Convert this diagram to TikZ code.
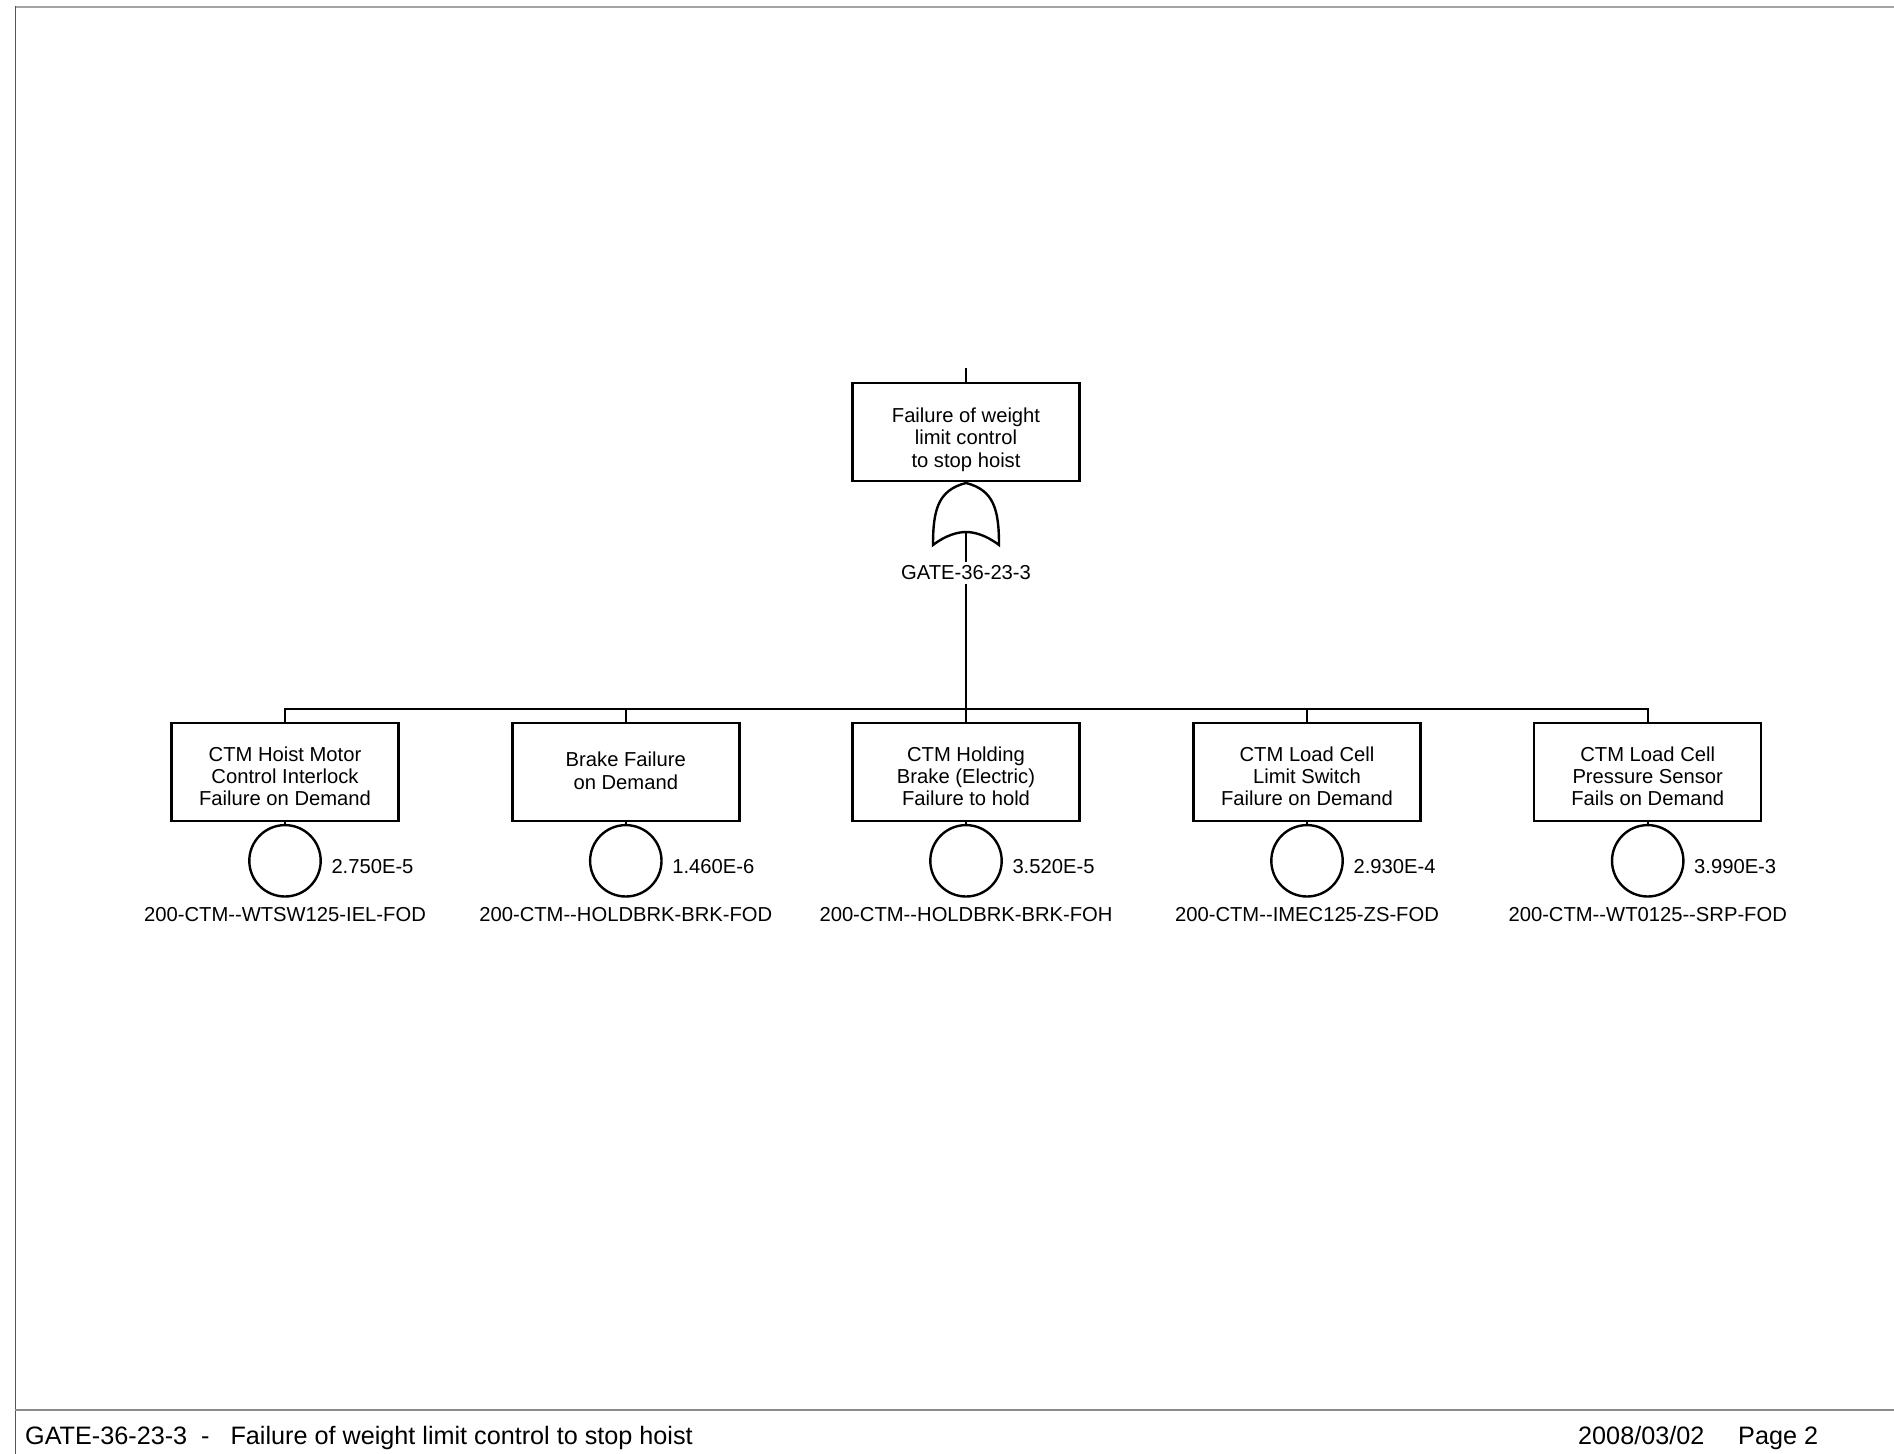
\documentclass[tikz,border=0pt]{standalone}
\usepackage{fontspec}
\setmainfont{Liberation Sans}
\usetikzlibrary{positioning}
\newcommand{\evfont}{\fontsize{10.1}{11.2}\selectfont}
\newcommand{\footfont}{\fontsize{12.6}{15}\selectfont}
\definecolor{rulegray}{HTML}{A4A4A4}
\definecolor{edgegray}{HTML}{555555}
\definecolor{footgray}{HTML}{8C8C8C}

\begin{document}
\begin{tikzpicture}[x=0.5pt, y=-0.5pt, line width=1.2pt,
  event/.style={draw, rectangle, minimum width=113.5pt, minimum height=49pt, inner sep=0pt},
  evtext/.style={align=center, font=\evfont, inner sep=0pt, yshift=#1},
  evtext/.default=-2.3pt,
  basic/.style={draw, circle, minimum size=35.7pt, inner sep=0pt},
  prob/.style={inner sep=0pt, font=\evfont},
  evid/.style={inner sep=0pt, font=\evfont},
  foot/.style={inner sep=0pt, anchor=base west, font=\footfont}]
\useasboundingbox (0,0) rectangle (1894,1454);

% Page frame and footer
\draw[rulegray, line width=1pt] (15,7) -- (1894,7);
\draw[edgegray, line width=0.5pt] (15,6.5) -- (15,1454);
\draw[footgray, line width=0.6pt] (15,1410) -- (1894,1410);
\node[foot] (ftitle) at (24,1444) {GATE-36-23-3\ \ -\ \ \ Failure of weight limit control to stop hoist};
\node[foot] (fdate) at (1577,1444) {2008/03/02};
\node[foot] (fpage) at (1737,1444) {Page 2};

% Top event and OR gate
\coordinate (topin) at (966,368);
\node[event, label={[evtext=-3.8pt]center:Failure of weight\\limit control\\to stop hoist}] (top) at (966,432) {};
\draw (topin) -- (top);
\begin{scope}[shift={(966,545)}]
\draw (-33,0) .. controls (-33,-35) and (-28,-55) .. (0,-62)
              .. controls (28,-55) and (33,-35) .. (33,0)
              .. controls (20,-10) and (8,-13) .. (0,-13)
              .. controls (-8,-13) and (-20,-10) .. (-33,0) -- cycle;
\coordinate (gin) at (0,-13);
\end{scope}
\coordinate (bus) at (966,709);
\draw (gin) -- (bus);
\node[evid, fill=white, inner xsep=1pt, inner ysep=2pt] (glbl) at (966,573) {GATE-36-23-3};

% Basic events
\node[event, label={[evtext]center:CTM Hoist Motor\\Control Interlock\\Failure on Demand}] (ev1) at (285,771.7) {};
\node[event, label={[evtext=0.5pt]center:Brake Failure\\on Demand}] (ev2) at (625.8,771.7) {};
\node[event, label={[evtext]center:CTM Holding\\Brake (Electric)\\Failure to hold}] (ev3) at (966,771.7) {};
\node[event, label={[evtext]center:CTM Load Cell\\Limit Switch\\Failure on Demand}] (ev4) at (1307,771.7) {};
\node[event, label={[evtext]center:CTM Load Cell\\Pressure Sensor\\Fails on Demand}] (ev5) at (1647.7,771.7) {};

\draw (ev1.north) |- (bus) -| (ev5.north);
\draw (ev2.north) -- (ev2.north |- bus);
\draw (ev3.north) -- (ev3.north |- bus);
\draw (ev4.north) -- (ev4.north |- bus);

\node[basic, below=1pt of ev1] (be1) {};
\node[basic, below=1pt of ev2] (be2) {};
\node[basic, below=1pt of ev3] (be3) {};
\node[basic, below=1pt of ev4] (be4) {};
\node[basic, below=1pt of ev5] (be5) {};
\draw (ev1) -- (be1);
\draw (ev2) -- (be2);
\draw (ev3) -- (be3);
\draw (ev4) -- (be4);
\draw (ev5) -- (be5);

\node[prob, right=4.2pt of be1, yshift=-3.1pt] (p1) {2.750E-5};
\node[prob, right=4.2pt of be2, yshift=-3.1pt] (p2) {1.460E-6};
\node[prob, right=4.2pt of be3, yshift=-3.1pt] (p3) {3.520E-5};
\node[prob, right=4.2pt of be4, yshift=-3.1pt] (p4) {2.930E-4};
\node[prob, right=4.2pt of be5, yshift=-3.1pt] (p5) {3.990E-3};

\node[evid, below=4pt of be1] (id1) {200-CTM-{}-WTSW125-IEL-FOD};
\node[evid, below=4pt of be2] (id2) {200-CTM-{}-HOLDBRK-BRK-FOD};
\node[evid, below=4pt of be3] (id3) {200-CTM-{}-HOLDBRK-BRK-FOH};
\node[evid, below=4pt of be4] (id4) {200-CTM-{}-IMEC125-ZS-FOD};
\node[evid, below=4pt of be5] (id5) {200-CTM-{}-WT0125-{}-SRP-FOD};
\end{tikzpicture}
\end{document}
